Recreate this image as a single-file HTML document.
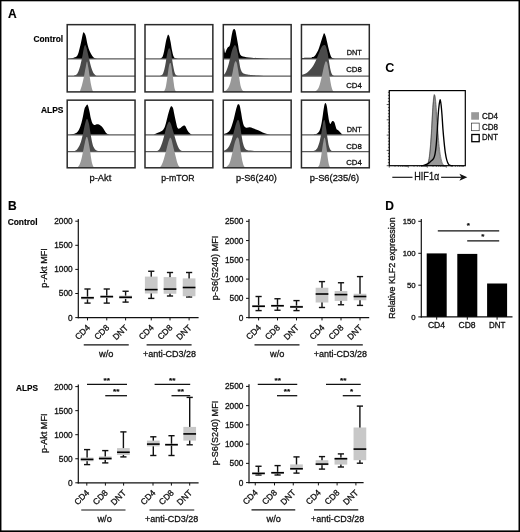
<!DOCTYPE html>
<html lang="en">
<head>
<meta charset="utf-8">
<title>Figure</title>
<style>
html,body{margin:0;padding:0;background:#fff;}
body{width:520px;height:532px;overflow:hidden;}
svg{display:block;}
text{font-kerning:normal;}
</style>
</head>
<body>
<svg width="520" height="532" viewBox="0 0 520 532" font-family='"Liberation Sans", sans-serif'>
<rect x="0" y="0" width="520" height="532" fill="#fff"/>
<path d="M68.6 58.95L68.6 58.85C69.37 58.69 71.88 58.28 73.2 57.9C74.52 57.52 75.62 57.43 76.5 56.55C77.38 55.68 77.85 54.52 78.5 52.65C79.15 50.78 79.85 47.65 80.4 45.35C80.95 43.05 81.32 40.98 81.8 38.85C82.28 36.72 82.76 33.32 83.3 32.55C83.84 31.78 84.58 33.42 85.05 34.25C85.52 35.08 85.66 35.7 86.1 37.55C86.54 39.4 87.1 43.05 87.7 45.35C88.3 47.65 88.93 49.58 89.7 51.35C90.47 53.12 91.43 54.8 92.3 55.95C93.17 57.1 94.13 57.75 94.9 58.25C95.67 58.75 96.57 58.83 96.9 58.95L96.9 58.95Z" fill="#000"/>
<line x1="67.2" y1="58.95" x2="135.05" y2="58.95" stroke="#5a5a5a" stroke-width="1.25"/>
<path d="M73.9 76.1L73.9 75.8C74.33 75.58 75.73 75.27 76.5 74.5C77.27 73.73 77.85 72.73 78.5 71.2C79.15 69.67 79.75 67.82 80.4 65.3C81.05 62.78 81.85 58.83 82.4 56.1C82.95 53.37 83.26 50.73 83.7 48.9C84.14 47.07 84.6 45.32 85.05 45.1C85.5 44.88 85.96 46.32 86.4 47.6C86.84 48.88 87.15 50.5 87.7 52.8C88.25 55.1 89.05 58.77 89.7 61.4C90.35 64.03 90.95 66.63 91.6 68.6C92.25 70.57 92.83 72 93.6 73.2C94.37 74.4 95.77 75.37 96.2 75.8L96.2 76.1Z" fill="#4a4a4a"/>
<line x1="67.2" y1="76.1" x2="135.05" y2="76.1" stroke="#5a5a5a" stroke-width="1.25"/>
<path d="M80.05 91.9L80.05 90.9C80.34 90.03 81.19 87.88 81.8 85.7C82.41 83.52 83.05 80.87 83.7 77.8C84.35 74.73 85.15 70.03 85.7 67.3C86.25 64.57 86.57 61.4 87 61.4C87.43 61.4 87.85 64.78 88.3 67.3C88.75 69.82 89.25 73.65 89.7 76.5C90.15 79.35 90.57 82.2 91 84.4C91.43 86.6 91.93 88.53 92.3 89.7C92.67 90.87 93.05 91.12 93.2 91.4L93.2 91.9Z" fill="#989898"/>
<rect x="67.2" y="24.65" width="67.85" height="67.25" fill="none" stroke="#2a2a2a" stroke-width="1.5"/>
<path d="M160.4 58.95L160.4 58.65C160.73 58.37 161.85 57.88 162.4 56.95C162.95 56.02 163.27 54.8 163.7 53.05C164.13 51.3 164.57 48.65 165 46.45C165.43 44.25 165.85 41.72 166.3 39.85C166.75 37.98 167.37 36.12 167.7 35.25C168.03 34.38 168.02 34.43 168.3 34.65C168.58 34.87 169 35.23 169.4 36.55C169.8 37.87 170.27 40.25 170.7 42.55C171.13 44.85 171.57 48.17 172 50.35C172.43 52.53 172.82 54.37 173.3 55.65C173.78 56.93 174.2 57.52 174.9 58.05C175.6 58.58 177.07 58.72 177.5 58.85L177.5 58.95Z" fill="#000"/>
<line x1="145" y1="58.95" x2="212.85" y2="58.95" stroke="#5a5a5a" stroke-width="1.25"/>
<path d="M160.4 76.1L160.4 75.8C160.8 75.48 162.13 74.98 162.8 73.9C163.47 72.82 163.92 71.17 164.4 69.3C164.88 67.43 165.27 65.12 165.7 62.7C166.13 60.28 166.57 57 167 54.8C167.43 52.6 167.9 50.6 168.3 49.5C168.7 48.4 169 47.98 169.4 48.2C169.8 48.42 170.27 49.05 170.7 50.8C171.13 52.55 171.57 56.07 172 58.7C172.43 61.33 172.87 64.3 173.3 66.6C173.73 68.9 174.12 71.07 174.6 72.5C175.08 73.93 175.6 74.6 176.2 75.2C176.8 75.8 177.87 75.95 178.2 76.1L178.2 76.1Z" fill="#4a4a4a"/>
<line x1="145" y1="76.1" x2="212.85" y2="76.1" stroke="#5a5a5a" stroke-width="1.25"/>
<path d="M164.1 91.9L164.1 91.5C164.37 90.8 165.22 89.32 165.7 87.3C166.18 85.28 166.57 82.25 167 79.4C167.43 76.55 167.9 72.72 168.3 70.2C168.7 67.68 169.07 65.5 169.4 64.3C169.73 63.1 170 62.9 170.3 63C170.6 63.1 170.83 63.05 171.2 64.9C171.57 66.75 172.1 71.25 172.5 74.1C172.9 76.95 173.25 79.58 173.6 82C173.95 84.42 174.25 87.07 174.6 88.6C174.95 90.13 175.38 90.65 175.7 91.2C176.02 91.75 176.37 91.78 176.5 91.9L176.5 91.9Z" fill="#989898"/>
<rect x="145" y="24.65" width="67.85" height="67.25" fill="none" stroke="#2a2a2a" stroke-width="1.5"/>
<path d="M223.3 58.95L223.3 46.45C223.45 46.78 223.92 47.37 224.2 48.45C224.48 49.53 224.68 52.58 225 52.95C225.32 53.32 225.62 51.58 226.1 50.65C226.58 49.72 227.33 48.12 227.9 47.35C228.47 46.58 229.03 47.03 229.5 46.05C229.97 45.07 230.32 43.32 230.7 41.45C231.08 39.58 231.43 36.72 231.8 34.85C232.17 32.98 232.52 31.23 232.9 30.25C233.28 29.27 233.68 28.92 234.1 28.95C234.52 28.98 234.97 29.12 235.4 30.45C235.83 31.78 236.27 34.62 236.7 36.95C237.13 39.28 237.58 42.03 238 44.45C238.42 46.87 238.73 49.63 239.2 51.45C239.67 53.27 240.17 54.5 240.8 55.35C241.43 56.2 242.08 56.25 243 56.55C243.92 56.85 244.87 56.97 246.3 57.15C247.73 57.33 249.4 57.47 251.6 57.65C253.8 57.83 257.1 58.08 259.5 58.25C261.9 58.42 264.08 58.58 266 58.7C267.92 58.82 270.17 58.91 271 58.95L271 58.95Z" fill="#000"/>
<line x1="223.3" y1="58.95" x2="291.15" y2="58.95" stroke="#5a5a5a" stroke-width="1.25"/>
<path d="M223.3 76.1L223.3 75.2C223.52 75.02 224.05 74.93 224.6 74.1C225.15 73.27 225.93 71.83 226.6 70.2C227.27 68.57 227.95 66.6 228.6 64.3C229.25 62 229.85 58.93 230.5 56.4C231.15 53.87 231.88 50.87 232.5 49.1C233.12 47.33 233.77 46.45 234.2 45.8C234.63 45.15 234.73 44.97 235.1 45.2C235.47 45.43 235.95 45.88 236.4 47.2C236.85 48.52 237.35 50.8 237.8 53.1C238.25 55.4 238.67 58.48 239.1 61C239.53 63.52 239.9 66.33 240.4 68.2C240.9 70.07 241.45 71.28 242.1 72.2C242.75 73.12 243.38 73.33 244.3 73.7C245.22 74.07 246.38 74.18 247.6 74.4C248.82 74.62 249.83 74.82 251.6 75C253.37 75.18 256.13 75.35 258.2 75.5C260.27 75.65 262.03 75.8 264 75.9C265.97 76 269 76.07 270 76.1L270 76.1Z" fill="#4a4a4a"/>
<line x1="223.3" y1="76.1" x2="291.15" y2="76.1" stroke="#5a5a5a" stroke-width="1.25"/>
<path d="M223.9 91.9L223.9 91.5C224.35 91.23 225.82 90.6 226.6 89.9C227.38 89.2 227.95 88.62 228.6 87.3C229.25 85.98 229.85 84.42 230.5 82C231.15 79.58 231.88 75.75 232.5 72.8C233.12 69.85 233.7 66.23 234.2 64.3C234.7 62.37 235.07 61.42 235.5 61.2C235.93 60.98 236.35 61.5 236.8 63C237.25 64.5 237.75 67.47 238.2 70.2C238.65 72.93 239.07 76.67 239.5 79.4C239.93 82.13 240.32 84.78 240.8 86.6C241.28 88.42 241.82 89.47 242.4 90.3C242.98 91.13 243.75 91.33 244.3 91.6C244.85 91.87 245.47 91.85 245.7 91.9L245.7 91.9Z" fill="#989898"/>
<rect x="223.3" y="24.65" width="67.85" height="67.25" fill="none" stroke="#2a2a2a" stroke-width="1.5"/>
<path d="M301.9 58.95L301.9 58.05C302.57 58 304.35 57.82 305.9 57.75C307.45 57.68 309.78 57.88 311.2 57.65C312.62 57.42 313.42 57.23 314.4 56.35C315.38 55.47 316.32 53.78 317.1 52.35C317.88 50.92 318.45 49.5 319.1 47.75C319.75 46 320.4 43.72 321 41.85C321.6 39.98 322.18 37.98 322.7 36.55C323.22 35.12 323.62 33.35 324.1 33.25C324.58 33.15 325.08 34.4 325.6 35.95C326.12 37.5 326.65 40.25 327.2 42.55C327.75 44.85 328.32 47.57 328.9 49.75C329.48 51.93 330.12 54.27 330.7 55.65C331.28 57.03 331.75 57.52 332.4 58.05C333.05 58.58 334.23 58.72 334.6 58.85L334.6 58.95Z" fill="#000"/>
<line x1="301.45" y1="58.95" x2="369.3" y2="58.95" stroke="#5a5a5a" stroke-width="1.25"/>
<path d="M301.9 76.1L301.9 74.8C302.35 74.65 303.6 74.38 304.6 73.9C305.6 73.42 306.8 72.78 307.9 71.9C309 71.02 310.22 69.8 311.2 68.6C312.18 67.4 312.93 66.23 313.8 64.7C314.67 63.17 315.52 61.38 316.4 59.4C317.28 57.42 318.27 54.78 319.1 52.8C319.93 50.82 320.75 48.7 321.4 47.5C322.05 46.3 322.52 46.03 323 45.6C323.48 45.17 323.83 44.8 324.3 44.9C324.77 45 325.27 44.98 325.8 46.2C326.33 47.42 326.98 49.78 327.5 52.2C328.02 54.62 328.47 58.08 328.9 60.7C329.33 63.32 329.67 65.82 330.1 67.9C330.53 69.98 331 71.95 331.5 73.2C332 74.45 332.48 74.92 333.1 75.4C333.72 75.88 334.85 75.98 335.2 76.1L335.2 76.1Z" fill="#4a4a4a"/>
<line x1="301.45" y1="76.1" x2="369.3" y2="76.1" stroke="#5a5a5a" stroke-width="1.25"/>
<path d="M315.1 91.9L315.1 91.6C315.53 91.22 316.93 90.45 317.7 89.3C318.47 88.15 319.03 86.78 319.7 84.7C320.37 82.62 321.03 79.65 321.7 76.8C322.37 73.95 323.12 70.02 323.7 67.6C324.28 65.18 324.78 63.33 325.2 62.3C325.62 61.27 325.85 61.28 326.2 61.4C326.55 61.52 326.88 61.53 327.3 63C327.72 64.47 328.23 67.47 328.7 70.2C329.17 72.93 329.62 76.55 330.1 79.4C330.58 82.25 331.12 85.37 331.6 87.3C332.08 89.23 332.53 90.23 333 91C333.47 91.77 334.17 91.75 334.4 91.9L334.4 91.9Z" fill="#989898"/>
<rect x="301.45" y="24.65" width="67.85" height="67.25" fill="none" stroke="#2a2a2a" stroke-width="1.5"/>
<path d="M69.9 134.85L69.9 134.55C70.67 134.42 73.18 134.3 74.5 133.8C75.82 133.3 76.82 132.81 77.8 131.55C78.78 130.29 79.63 128.33 80.4 126.25C81.17 124.17 81.73 121.9 82.4 119.05C83.07 116.2 83.85 111.23 84.4 109.15C84.95 107.07 85.22 107.32 85.7 106.55C86.18 105.78 86.87 104.55 87.3 104.55C87.73 104.55 87.9 105.23 88.3 106.55C88.7 107.87 89.25 110.37 89.7 112.45C90.15 114.53 90.5 117.18 91 119.05C91.5 120.92 92.05 122.67 92.7 123.65C93.35 124.63 94.2 124.83 94.9 124.95C95.6 125.07 96.23 124.42 96.9 124.35C97.57 124.28 98.25 124.33 98.9 124.55C99.55 124.77 100.15 125.13 100.8 125.65C101.45 126.17 102.13 126.77 102.8 127.65C103.47 128.53 104.13 129.97 104.8 130.95C105.47 131.93 106.03 132.9 106.8 133.55C107.57 134.2 108.97 134.63 109.4 134.85L109.4 134.85Z" fill="#000"/>
<line x1="67.2" y1="134.85" x2="135.05" y2="134.85" stroke="#5a5a5a" stroke-width="1.25"/>
<path d="M73.2 151.65L73.2 151.35C73.75 151.13 75.52 150.88 76.5 150.05C77.48 149.22 78.33 147.83 79.1 146.35C79.87 144.87 80.43 143.33 81.1 141.15C81.77 138.97 82.44 136.1 83.1 133.25C83.76 130.4 84.4 126.47 85.05 124.05C85.7 121.63 86.34 118.75 87 118.75C87.66 118.75 88.45 121.85 89 124.05C89.55 126.25 89.82 129.1 90.3 131.95C90.78 134.8 91.35 138.63 91.9 141.15C92.45 143.67 92.88 145.52 93.6 147.05C94.32 148.58 95.1 149.63 96.2 150.35C97.3 151.07 98.98 151.13 100.2 151.35C101.42 151.57 102.95 151.6 103.5 151.65L103.5 151.65Z" fill="#4a4a4a"/>
<line x1="67.2" y1="151.65" x2="135.05" y2="151.65" stroke="#5a5a5a" stroke-width="1.25"/>
<path d="M77.8 167.8L77.8 167.4C78.13 166.85 79.13 165.75 79.8 164.1C80.47 162.45 81.15 160.13 81.8 157.5C82.45 154.87 83.05 151.37 83.7 148.3C84.35 145.23 85.18 140.97 85.7 139.1C86.22 137.23 86.43 137.1 86.8 137.1C87.17 137.1 87.42 137.23 87.9 139.1C88.38 140.97 89.18 145.23 89.7 148.3C90.22 151.37 90.57 154.87 91 157.5C91.43 160.13 91.87 162.52 92.3 164.1C92.73 165.68 93.23 166.38 93.6 167C93.97 167.62 94.35 167.67 94.5 167.8L94.5 167.8Z" fill="#989898"/>
<rect x="67.2" y="100.15" width="67.85" height="67.65" fill="none" stroke="#2a2a2a" stroke-width="1.5"/>
<path d="M153.8 134.85L153.8 134.55C154.47 134.27 156.48 133.45 157.8 132.85C159.12 132.25 160.6 131.82 161.7 130.95C162.8 130.08 163.63 129.2 164.4 127.65C165.17 126.1 165.65 123.97 166.3 121.65C166.95 119.33 167.7 115.93 168.3 113.75C168.9 111.57 169.42 109.82 169.9 108.55C170.38 107.28 170.7 106.27 171.2 106.15C171.7 106.03 172.4 106.58 172.9 107.85C173.4 109.12 173.7 111.45 174.2 113.75C174.7 116.05 175.35 119.33 175.9 121.65C176.45 123.97 176.9 126.5 177.5 127.65C178.1 128.8 178.83 128.67 179.5 128.55C180.17 128.43 180.85 127.43 181.5 126.95C182.15 126.47 182.78 125.8 183.4 125.65C184.02 125.5 184.65 125.5 185.2 126.05C185.75 126.6 186.12 127.92 186.7 128.95C187.28 129.98 188 131.38 188.7 132.25C189.4 133.12 190.23 133.72 190.9 134.15C191.57 134.58 192.4 134.73 192.7 134.85L192.7 134.85Z" fill="#000"/>
<line x1="145" y1="134.85" x2="212.85" y2="134.85" stroke="#5a5a5a" stroke-width="1.25"/>
<path d="M156.5 151.65L156.5 151.35C156.93 151.07 158.33 150.58 159.1 149.65C159.87 148.72 160.43 147.38 161.1 145.75C161.77 144.12 162.45 142.05 163.1 139.85C163.75 137.65 164.35 134.97 165 132.55C165.65 130.13 166.33 127.17 167 125.35C167.67 123.53 168.35 121.87 169 121.65C169.65 121.43 170.25 122.57 170.9 124.05C171.55 125.53 172.23 128.37 172.9 130.55C173.57 132.73 174.23 134.95 174.9 137.15C175.57 139.35 176.25 141.88 176.9 143.75C177.55 145.62 178.15 147.21 178.8 148.35C179.45 149.49 180.03 150.05 180.8 150.6C181.57 151.15 182.97 151.47 183.4 151.65L183.4 151.65Z" fill="#4a4a4a"/>
<line x1="145" y1="151.65" x2="212.85" y2="151.65" stroke="#5a5a5a" stroke-width="1.25"/>
<path d="M159.8 167.8L159.8 167.4C160.12 166.97 161.05 166.12 161.7 164.8C162.35 163.48 163.03 161.58 163.7 159.5C164.37 157.42 165.03 154.82 165.7 152.3C166.37 149.78 167.08 146.6 167.7 144.4C168.32 142.2 168.97 140.2 169.4 139.1C169.83 138 169.93 137.68 170.3 137.8C170.67 137.92 171.05 138.05 171.6 139.8C172.15 141.55 172.93 145.57 173.6 148.3C174.27 151.03 174.98 153.78 175.6 156.2C176.22 158.62 176.77 161.15 177.3 162.8C177.83 164.45 178.28 165.27 178.8 166.1C179.32 166.93 180.13 167.52 180.4 167.8L180.4 167.8Z" fill="#989898"/>
<rect x="145" y="100.15" width="67.85" height="67.65" fill="none" stroke="#2a2a2a" stroke-width="1.5"/>
<path d="M223.9 134.85L223.9 134.15C224.45 133.93 226.2 133.5 227.2 132.85C228.2 132.2 229.13 131.45 229.9 130.25C230.67 129.05 231.15 127.52 231.8 125.65C232.45 123.78 233.18 121.35 233.8 119.05C234.42 116.75 234.95 114.03 235.5 111.85C236.05 109.67 236.62 107.2 237.1 105.95C237.58 104.7 237.97 104.4 238.4 104.35C238.83 104.3 239.25 104.3 239.7 105.65C240.15 107 240.65 110 241.1 112.45C241.55 114.9 241.93 118.15 242.4 120.35C242.87 122.55 243.25 124.43 243.9 125.65C244.55 126.87 245.35 127.38 246.3 127.65C247.25 127.92 248.5 127.15 249.6 127.25C250.7 127.35 251.7 127.82 252.9 128.25C254.1 128.68 255.48 129.3 256.8 129.85C258.12 130.4 259.48 130.98 260.8 131.55C262.12 132.12 263.28 132.75 264.7 133.25C266.12 133.75 267.98 134.28 269.3 134.55C270.62 134.82 272.05 134.8 272.6 134.85L272.6 134.85Z" fill="#000"/>
<line x1="223.3" y1="134.85" x2="291.15" y2="134.85" stroke="#5a5a5a" stroke-width="1.25"/>
<path d="M223.9 151.65L223.9 150.85C224.35 150.58 225.72 150.07 226.6 149.25C227.48 148.43 228.37 147.48 229.2 145.95C230.03 144.42 230.87 142.23 231.6 140.05C232.33 137.87 232.95 135.27 233.6 132.85C234.25 130.43 234.92 127.53 235.5 125.55C236.08 123.57 236.68 121.87 237.1 120.95C237.52 120.03 237.67 119.98 238 120.05C238.33 120.12 238.7 120.1 239.1 121.35C239.5 122.6 239.97 125.08 240.4 127.55C240.83 130.02 241.27 133.52 241.7 136.15C242.13 138.78 242.5 141.38 243 143.35C243.5 145.32 244.03 146.85 244.7 147.95C245.37 149.05 246.07 149.51 247 149.95C247.93 150.39 248.88 150.4 250.3 150.6C251.72 150.8 253.53 151 255.5 151.15C257.47 151.3 260.33 151.44 262.1 151.52C263.87 151.6 265.43 151.63 266.1 151.65L266.1 151.65Z" fill="#4a4a4a"/>
<line x1="223.3" y1="151.65" x2="291.15" y2="151.65" stroke="#5a5a5a" stroke-width="1.25"/>
<path d="M225.9 167.8L225.9 167.4C226.35 166.97 227.83 166 228.6 164.8C229.37 163.6 229.85 162.28 230.5 160.2C231.15 158.12 231.83 155.05 232.5 152.3C233.17 149.55 233.85 146 234.5 143.7C235.15 141.4 235.9 139.53 236.4 138.5C236.9 137.47 237.12 137.4 237.5 137.5C237.88 137.6 238.28 137.73 238.7 139.1C239.12 140.47 239.57 143.07 240 145.7C240.43 148.33 240.87 152.17 241.3 154.9C241.73 157.63 242.17 160.23 242.6 162.1C243.03 163.97 243.38 165.15 243.9 166.1C244.42 167.05 245.4 167.52 245.7 167.8L245.7 167.8Z" fill="#989898"/>
<rect x="223.3" y="100.15" width="67.85" height="67.65" fill="none" stroke="#2a2a2a" stroke-width="1.5"/>
<path d="M313.8 134.85L313.8 134.55C314.35 134.38 316.12 134.27 317.1 133.55C318.08 132.83 318.95 132 319.7 130.25C320.45 128.5 321.05 125.8 321.6 123.05C322.15 120.3 322.6 116.38 323 113.75C323.4 111.12 323.72 108.87 324 107.25C324.28 105.63 324.47 104.75 324.7 104.05C324.93 103.35 325.15 103.05 325.4 103.05C325.65 103.05 325.93 103.35 326.2 104.05C326.47 104.75 326.72 105.63 327 107.25C327.28 108.87 327.55 111.45 327.9 113.75C328.25 116.05 328.7 119.33 329.1 121.05C329.5 122.77 329.92 123.85 330.3 124.05C330.68 124.25 331.05 122.75 331.4 122.25C331.75 121.75 332.05 121.23 332.4 121.05C332.75 120.87 333.15 120.9 333.5 121.15C333.85 121.4 334.15 121.68 334.5 122.55C334.85 123.42 335.25 125.23 335.6 126.35C335.95 127.47 336.23 128.63 336.6 129.25C336.97 129.87 337.37 129.72 337.8 130.05C338.23 130.38 338.73 130.78 339.2 131.25C339.67 131.72 340.13 132.35 340.6 132.85C341.07 133.35 341.57 133.92 342 134.25C342.43 134.58 343 134.75 343.2 134.85L343.2 134.85Z" fill="#000"/>
<line x1="301.45" y1="134.85" x2="369.3" y2="134.85" stroke="#5a5a5a" stroke-width="1.25"/>
<path d="M312.5 151.65L312.5 151.35C313.05 151.12 314.93 150.62 315.8 149.95C316.67 149.28 317.05 148.78 317.7 147.35C318.35 145.92 319.08 143.77 319.7 141.35C320.32 138.93 320.9 135.58 321.4 132.85C321.9 130.12 322.3 127.03 322.7 124.95C323.1 122.87 323.42 120.9 323.8 120.35C324.18 119.8 324.58 120.12 325 121.65C325.42 123.18 325.87 126.7 326.3 129.55C326.73 132.4 327.17 136.02 327.6 138.75C328.03 141.48 328.4 144.08 328.9 145.95C329.4 147.82 329.93 149.05 330.6 149.95C331.27 150.85 332.2 151.07 332.9 151.35C333.6 151.63 334.48 151.6 334.8 151.65L334.8 151.65Z" fill="#4a4a4a"/>
<line x1="301.45" y1="151.65" x2="369.3" y2="151.65" stroke="#5a5a5a" stroke-width="1.25"/>
<path d="M317.7 167.8L317.7 167.5C317.98 167.05 318.85 166.47 319.4 164.8C319.95 163.13 320.52 160.25 321 157.5C321.48 154.75 321.85 151.25 322.3 148.3C322.75 145.35 323.37 141.55 323.7 139.8C324.03 138.05 324.05 137.92 324.3 137.8C324.55 137.68 324.82 137.35 325.2 139.1C325.58 140.85 326.15 145 326.6 148.3C327.05 151.6 327.47 156.05 327.9 158.9C328.33 161.75 328.77 163.97 329.2 165.4C329.63 166.83 330.17 167.1 330.5 167.5C330.83 167.8 331.08 167.75 331.2 167.8L331.2 167.8Z" fill="#989898"/>
<rect x="301.45" y="100.15" width="67.85" height="67.65" fill="none" stroke="#2a2a2a" stroke-width="1.5"/>
<text x="7.9" y="17.8" font-size="12" font-weight="bold" fill="#000" stroke="#000" stroke-width="0.15">A</text>
<text x="33.5" y="41.8" font-size="8.3" font-weight="bold" textLength="29.6" lengthAdjust="spacingAndGlyphs" fill="#000" stroke="#000" stroke-width="0.15">Control</text>
<text x="41" y="113.4" font-size="8.3" font-weight="bold" textLength="22.5" lengthAdjust="spacingAndGlyphs" fill="#000" stroke="#000" stroke-width="0.15">ALPS</text>
<text x="89.53" y="180.6" font-size="9.7" textLength="21.75" lengthAdjust="spacingAndGlyphs" fill="#111" stroke="#111" stroke-width="0.3">p-Akt</text>
<text x="161.28" y="180.6" font-size="9.7" textLength="33.25" lengthAdjust="spacingAndGlyphs" fill="#111" stroke="#111" stroke-width="0.3">p-mTOR</text>
<text x="236.05" y="180.6" font-size="9.7" textLength="40.9" lengthAdjust="spacingAndGlyphs" fill="#111" stroke="#111" stroke-width="0.3">p-S6(240)</text>
<text x="309.85" y="180.6" font-size="9.7" textLength="49.3" lengthAdjust="spacingAndGlyphs" fill="#111" stroke="#111" stroke-width="0.3">p-S6(235/6)</text>
<text x="346.8" y="55.4" font-size="7.8" textLength="15" lengthAdjust="spacingAndGlyphs" fill="#111" stroke="#111" stroke-width="0.3">DNT</text>
<text x="346.2" y="72" font-size="7.8" textLength="15.6" lengthAdjust="spacingAndGlyphs" fill="#111" stroke="#111" stroke-width="0.3">CD8</text>
<text x="346.2" y="88.2" font-size="7.8" textLength="15.6" lengthAdjust="spacingAndGlyphs" fill="#111" stroke="#111" stroke-width="0.3">CD4</text>
<text x="346.8" y="131.9" font-size="7.8" textLength="15" lengthAdjust="spacingAndGlyphs" fill="#111" stroke="#111" stroke-width="0.3">DNT</text>
<text x="346.2" y="148.5" font-size="7.8" textLength="15.6" lengthAdjust="spacingAndGlyphs" fill="#111" stroke="#111" stroke-width="0.3">CD8</text>
<text x="346.2" y="165" font-size="7.8" textLength="15.6" lengthAdjust="spacingAndGlyphs" fill="#111" stroke="#111" stroke-width="0.3">CD4</text>
<text x="385.2" y="72.2" font-size="12.6" font-weight="bold" fill="#000">C</text>
<path d="M426.3 165.7L426.3 165.7C426.5 165.52 427.05 165.7 427.5 164.65C427.95 163.47 428.55 161.36 429 158.6C429.45 155.84 429.82 152.35 430.2 148.1C430.58 143.85 430.95 138.62 431.3 133.1C431.65 127.58 431.98 120.27 432.3 115C432.62 109.73 432.87 104.95 433.2 101.5C433.53 98.05 433.95 94.3 434.3 94.3C434.65 94.3 434.98 98.05 435.3 101.5C435.62 104.95 435.87 110.23 436.2 115C436.53 119.77 436.95 125.33 437.3 130.1C437.65 134.87 437.93 139.6 438.3 143.6C438.67 147.6 439.03 151.1 439.5 154.1C439.97 157.1 440.58 159.79 441.1 161.6C441.62 163.41 442.12 164.27 442.6 164.95C443.08 165.63 443.77 165.57 444 165.7L444 165.7Z" fill="#999" stroke="#6a6a6a" stroke-width="0.6" stroke-linejoin="round"/>
<path d="M426 165.7C426.27 165.52 427.07 165.7 427.6 164.65C428.13 163.47 428.73 161.36 429.2 158.6C429.67 155.84 430.02 152.35 430.4 148.1C430.78 143.85 431.15 138.62 431.5 133.1C431.85 127.58 432.17 120.27 432.5 115C432.83 109.73 433.15 104.8 433.5 101.5C433.85 98.2 434.23 95.2 434.6 95.2C434.97 95.2 435.35 98.2 435.7 101.5C436.05 104.8 436.35 110.23 436.7 115C437.05 119.77 437.43 125.33 437.8 130.1C438.17 134.87 438.5 139.6 438.9 143.6C439.3 147.6 439.72 151.1 440.2 154.1C440.68 157.1 441.27 159.79 441.8 161.6C442.33 163.41 442.87 164.27 443.4 164.95C443.93 165.63 444.73 165.57 445 165.7" fill="none" stroke="#333" stroke-width="0.55" stroke-linejoin="round"/>
<path d="M421 165.7C421.47 165.65 422.72 165.7 423.8 165.4C424.88 165.1 426.38 164.53 427.5 163.9C428.62 163.27 429.5 162.48 430.5 161.6C431.5 160.72 432.75 159.85 433.5 158.6C434.25 157.35 434.55 156.35 435 154.1C435.45 151.85 435.82 149.1 436.2 145.1C436.58 141.1 436.95 135.37 437.3 130.1C437.65 124.83 437.98 117.77 438.3 113.5C438.62 109.23 438.89 106.8 439.2 104.5C439.51 102.2 439.84 99.7 440.15 99.7C440.46 99.7 440.74 101.95 441.05 104.5C441.36 107.05 441.69 110.98 442 115C442.31 119.02 442.55 124.08 442.9 128.6C443.25 133.12 443.7 138.1 444.1 142.1C444.5 146.1 444.85 149.6 445.3 152.6C445.75 155.6 446.25 158.14 446.8 160.1C447.35 162.06 447.93 163.44 448.6 164.35C449.27 165.26 450.07 165.32 450.8 165.55C451.53 165.7 452.63 165.67 453 165.7" fill="none" stroke="#000" stroke-width="1.35" stroke-linejoin="round"/>
<rect x="389.3" y="90.6" width="76" height="75.1" fill="none" stroke="#000" stroke-width="1.2"/>
<line x1="386.7" y1="165.7" x2="389.3" y2="165.7" stroke="#111" stroke-width="0.7"/>
<line x1="387.9" y1="162.64" x2="389.3" y2="162.64" stroke="#111" stroke-width="0.7"/>
<line x1="387.9" y1="159.58" x2="389.3" y2="159.58" stroke="#111" stroke-width="0.7"/>
<line x1="387.9" y1="156.52" x2="389.3" y2="156.52" stroke="#111" stroke-width="0.7"/>
<line x1="387.9" y1="153.46" x2="389.3" y2="153.46" stroke="#111" stroke-width="0.7"/>
<line x1="386.7" y1="150.4" x2="389.3" y2="150.4" stroke="#111" stroke-width="0.7"/>
<line x1="387.9" y1="147.34" x2="389.3" y2="147.34" stroke="#111" stroke-width="0.7"/>
<line x1="387.9" y1="144.28" x2="389.3" y2="144.28" stroke="#111" stroke-width="0.7"/>
<line x1="387.9" y1="141.22" x2="389.3" y2="141.22" stroke="#111" stroke-width="0.7"/>
<line x1="387.9" y1="138.16" x2="389.3" y2="138.16" stroke="#111" stroke-width="0.7"/>
<line x1="386.7" y1="135.1" x2="389.3" y2="135.1" stroke="#111" stroke-width="0.7"/>
<line x1="387.9" y1="132.04" x2="389.3" y2="132.04" stroke="#111" stroke-width="0.7"/>
<line x1="387.9" y1="128.98" x2="389.3" y2="128.98" stroke="#111" stroke-width="0.7"/>
<line x1="387.9" y1="125.92" x2="389.3" y2="125.92" stroke="#111" stroke-width="0.7"/>
<line x1="387.9" y1="122.86" x2="389.3" y2="122.86" stroke="#111" stroke-width="0.7"/>
<line x1="386.7" y1="119.8" x2="389.3" y2="119.8" stroke="#111" stroke-width="0.7"/>
<line x1="387.9" y1="116.74" x2="389.3" y2="116.74" stroke="#111" stroke-width="0.7"/>
<line x1="387.9" y1="113.68" x2="389.3" y2="113.68" stroke="#111" stroke-width="0.7"/>
<line x1="387.9" y1="110.62" x2="389.3" y2="110.62" stroke="#111" stroke-width="0.7"/>
<line x1="387.9" y1="107.56" x2="389.3" y2="107.56" stroke="#111" stroke-width="0.7"/>
<line x1="386.7" y1="104.5" x2="389.3" y2="104.5" stroke="#111" stroke-width="0.7"/>
<line x1="387.9" y1="101.44" x2="389.3" y2="101.44" stroke="#111" stroke-width="0.7"/>
<line x1="387.9" y1="98.38" x2="389.3" y2="98.38" stroke="#111" stroke-width="0.7"/>
<line x1="387.9" y1="95.32" x2="389.3" y2="95.32" stroke="#111" stroke-width="0.7"/>
<line x1="387.9" y1="92.26" x2="389.3" y2="92.26" stroke="#111" stroke-width="0.7"/>
<line x1="389.3" y1="165.7" x2="389.3" y2="167.7" stroke="#111" stroke-width="0.6"/>
<line x1="395.02" y1="165.7" x2="395.02" y2="166.8" stroke="#111" stroke-width="0.6"/>
<line x1="398.37" y1="165.7" x2="398.37" y2="166.8" stroke="#111" stroke-width="0.6"/>
<line x1="400.74" y1="165.7" x2="400.74" y2="166.8" stroke="#111" stroke-width="0.6"/>
<line x1="402.58" y1="165.7" x2="402.58" y2="166.8" stroke="#111" stroke-width="0.6"/>
<line x1="404.08" y1="165.7" x2="404.08" y2="166.8" stroke="#111" stroke-width="0.6"/>
<line x1="405.36" y1="165.7" x2="405.36" y2="166.8" stroke="#111" stroke-width="0.6"/>
<line x1="406.46" y1="165.7" x2="406.46" y2="166.8" stroke="#111" stroke-width="0.6"/>
<line x1="407.43" y1="165.7" x2="407.43" y2="166.8" stroke="#111" stroke-width="0.6"/>
<line x1="408.3" y1="165.7" x2="408.3" y2="167.7" stroke="#111" stroke-width="0.6"/>
<line x1="414.02" y1="165.7" x2="414.02" y2="166.8" stroke="#111" stroke-width="0.6"/>
<line x1="417.37" y1="165.7" x2="417.37" y2="166.8" stroke="#111" stroke-width="0.6"/>
<line x1="419.74" y1="165.7" x2="419.74" y2="166.8" stroke="#111" stroke-width="0.6"/>
<line x1="421.58" y1="165.7" x2="421.58" y2="166.8" stroke="#111" stroke-width="0.6"/>
<line x1="423.08" y1="165.7" x2="423.08" y2="166.8" stroke="#111" stroke-width="0.6"/>
<line x1="424.36" y1="165.7" x2="424.36" y2="166.8" stroke="#111" stroke-width="0.6"/>
<line x1="425.46" y1="165.7" x2="425.46" y2="166.8" stroke="#111" stroke-width="0.6"/>
<line x1="426.43" y1="165.7" x2="426.43" y2="166.8" stroke="#111" stroke-width="0.6"/>
<line x1="427.3" y1="165.7" x2="427.3" y2="167.7" stroke="#111" stroke-width="0.6"/>
<line x1="433.02" y1="165.7" x2="433.02" y2="166.8" stroke="#111" stroke-width="0.6"/>
<line x1="436.37" y1="165.7" x2="436.37" y2="166.8" stroke="#111" stroke-width="0.6"/>
<line x1="438.74" y1="165.7" x2="438.74" y2="166.8" stroke="#111" stroke-width="0.6"/>
<line x1="440.58" y1="165.7" x2="440.58" y2="166.8" stroke="#111" stroke-width="0.6"/>
<line x1="442.08" y1="165.7" x2="442.08" y2="166.8" stroke="#111" stroke-width="0.6"/>
<line x1="443.36" y1="165.7" x2="443.36" y2="166.8" stroke="#111" stroke-width="0.6"/>
<line x1="444.46" y1="165.7" x2="444.46" y2="166.8" stroke="#111" stroke-width="0.6"/>
<line x1="445.43" y1="165.7" x2="445.43" y2="166.8" stroke="#111" stroke-width="0.6"/>
<line x1="446.3" y1="165.7" x2="446.3" y2="167.7" stroke="#111" stroke-width="0.6"/>
<line x1="452.02" y1="165.7" x2="452.02" y2="166.8" stroke="#111" stroke-width="0.6"/>
<line x1="455.37" y1="165.7" x2="455.37" y2="166.8" stroke="#111" stroke-width="0.6"/>
<line x1="457.74" y1="165.7" x2="457.74" y2="166.8" stroke="#111" stroke-width="0.6"/>
<line x1="459.58" y1="165.7" x2="459.58" y2="166.8" stroke="#111" stroke-width="0.6"/>
<line x1="461.08" y1="165.7" x2="461.08" y2="166.8" stroke="#111" stroke-width="0.6"/>
<line x1="462.36" y1="165.7" x2="462.36" y2="166.8" stroke="#111" stroke-width="0.6"/>
<line x1="463.46" y1="165.7" x2="463.46" y2="166.8" stroke="#111" stroke-width="0.6"/>
<line x1="392.3" y1="177.3" x2="412.5" y2="177.3" stroke="#111" stroke-width="1.15"/>
<text x="414.3" y="179.6" font-size="10.1" textLength="24.9" lengthAdjust="spacingAndGlyphs" fill="#111" stroke="#111" stroke-width="0.3">HIF1α</text>
<line x1="441.1" y1="177.3" x2="461.5" y2="177.3" stroke="#111" stroke-width="1.15"/>
<path d="M467.3 177.3L459.4 173.8L461.4 177.3L459.4 180.8Z" fill="#111"/>
<rect x="471.2" y="112.2" width="7.8" height="7.5" fill="#999"/>
<rect x="471.6" y="123.1" width="7.6" height="7.6" fill="#fff" stroke="#333" stroke-width="0.7"/>
<rect x="471.8" y="134.5" width="7.4" height="7.2" fill="#fff" stroke="#000" stroke-width="1.3"/>
<text x="482" y="118.8" font-size="8.2" textLength="16.1" lengthAdjust="spacingAndGlyphs" fill="#111" stroke="#111" stroke-width="0.3">CD4</text>
<text x="482" y="129.6" font-size="8.2" textLength="16.1" lengthAdjust="spacingAndGlyphs" fill="#111" stroke="#111" stroke-width="0.3">CD8</text>
<text x="482" y="140.2" font-size="8.2" textLength="16" lengthAdjust="spacingAndGlyphs" fill="#111" stroke="#111" stroke-width="0.3">DNT</text>
<text x="385.2" y="210.3" font-size="12" font-weight="bold" fill="#000" stroke="#000" stroke-width="0.15">D</text>
<line x1="421.3" y1="218.9" x2="421.3" y2="317.5" stroke="#111" stroke-width="1.2"/>
<line x1="420.7" y1="316.9" x2="512.5" y2="316.9" stroke="#111" stroke-width="1.2"/>
<line x1="418.3" y1="221.3" x2="421.3" y2="221.3" stroke="#111" stroke-width="1"/>
<text x="415.7" y="224.1" font-size="7.8" text-anchor="end" fill="#111" stroke="#111" stroke-width="0.3">150</text>
<line x1="418.3" y1="253.3" x2="421.3" y2="253.3" stroke="#111" stroke-width="1"/>
<text x="415.7" y="256.1" font-size="7.8" text-anchor="end" fill="#111" stroke="#111" stroke-width="0.3">100</text>
<line x1="418.3" y1="285.2" x2="421.3" y2="285.2" stroke="#111" stroke-width="1"/>
<text x="415.7" y="288" font-size="7.8" text-anchor="end" fill="#111" stroke="#111" stroke-width="0.3">50</text>
<line x1="418.3" y1="316.9" x2="421.3" y2="316.9" stroke="#111" stroke-width="1"/>
<text x="415.7" y="319.7" font-size="7.8" text-anchor="end" fill="#111" stroke="#111" stroke-width="0.3">0</text>
<rect x="426.7" y="253.4" width="20" height="63.5" fill="#000"/>
<line x1="436.7" y1="316.9" x2="436.7" y2="319.7" stroke="#111" stroke-width="1"/>
<rect x="457.3" y="253.9" width="20" height="63" fill="#000"/>
<line x1="467.3" y1="316.9" x2="467.3" y2="319.7" stroke="#111" stroke-width="1"/>
<rect x="487.1" y="283.5" width="20" height="33.4" fill="#000"/>
<line x1="497.1" y1="316.9" x2="497.1" y2="319.7" stroke="#111" stroke-width="1"/>
<text x="427.9" y="328.2" font-size="8.4" textLength="17.2" lengthAdjust="spacingAndGlyphs" fill="#111" stroke="#111" stroke-width="0.3">CD4</text>
<text x="458.5" y="328.2" font-size="8.4" textLength="17.1" lengthAdjust="spacingAndGlyphs" fill="#111" stroke="#111" stroke-width="0.3">CD8</text>
<text x="489" y="328.2" font-size="8.4" textLength="16.4" lengthAdjust="spacingAndGlyphs" fill="#111" stroke="#111" stroke-width="0.3">DNT</text>
<line x1="437.8" y1="230.9" x2="499.2" y2="230.9" stroke="#111" stroke-width="1.3"/>
<line x1="467.2" y1="240.9" x2="499.2" y2="240.9" stroke="#111" stroke-width="1.3"/>
<text x="468.3" y="228.3" font-size="8" text-anchor="middle" font-weight="bold" fill="#000" stroke="#000" stroke-width="0.15">*</text>
<text x="482.9" y="238.9" font-size="8" text-anchor="middle" font-weight="bold" fill="#000" stroke="#000" stroke-width="0.15">*</text>
<text x="395.5" y="318.7" font-size="9.7" textLength="101.3" lengthAdjust="spacingAndGlyphs" transform="rotate(-90 395.5 318.7)" fill="#111" stroke="#111" stroke-width="0.3">Relative KLF2 expression</text>
<text x="8" y="210.1" font-size="12" font-weight="bold" fill="#000" stroke="#000" stroke-width="0.15">B</text>
<text x="7.7" y="225" font-size="8.3" font-weight="bold" textLength="29.8" lengthAdjust="spacingAndGlyphs" fill="#000" stroke="#000" stroke-width="0.15">Control</text>
<text x="16" y="390.7" font-size="8.3" font-weight="bold" textLength="22" lengthAdjust="spacingAndGlyphs" fill="#000" stroke="#000" stroke-width="0.15">ALPS</text>
<line x1="78.3" y1="219" x2="78.3" y2="318.2" stroke="#111" stroke-width="1.2"/>
<line x1="77.7" y1="317.6" x2="198.6" y2="317.6" stroke="#111" stroke-width="1.2"/>
<line x1="75.3" y1="317.6" x2="78.3" y2="317.6" stroke="#111" stroke-width="1"/>
<text x="72.7" y="320.55" font-size="8.3" text-anchor="end" fill="#111" stroke="#111" stroke-width="0.3">0</text>
<line x1="75.3" y1="293.5" x2="78.3" y2="293.5" stroke="#111" stroke-width="1"/>
<text x="72.7" y="296.45" font-size="8.3" text-anchor="end" fill="#111" stroke="#111" stroke-width="0.3">500</text>
<line x1="75.3" y1="269.4" x2="78.3" y2="269.4" stroke="#111" stroke-width="1"/>
<text x="72.7" y="272.35" font-size="8.3" text-anchor="end" fill="#111" stroke="#111" stroke-width="0.3">1000</text>
<line x1="75.3" y1="245.3" x2="78.3" y2="245.3" stroke="#111" stroke-width="1"/>
<text x="72.7" y="248.25" font-size="8.3" text-anchor="end" fill="#111" stroke="#111" stroke-width="0.3">1500</text>
<line x1="75.3" y1="221.2" x2="78.3" y2="221.2" stroke="#111" stroke-width="1"/>
<text x="72.7" y="224.15" font-size="8.3" text-anchor="end" fill="#111" stroke="#111" stroke-width="0.3">2000</text>
<line x1="87.5" y1="317.6" x2="87.5" y2="320.4" stroke="#111" stroke-width="1"/>
<line x1="106.75" y1="317.6" x2="106.75" y2="320.4" stroke="#111" stroke-width="1"/>
<line x1="125.6" y1="317.6" x2="125.6" y2="320.4" stroke="#111" stroke-width="1"/>
<line x1="151.25" y1="317.6" x2="151.25" y2="320.4" stroke="#111" stroke-width="1"/>
<line x1="170" y1="317.6" x2="170" y2="320.4" stroke="#111" stroke-width="1"/>
<line x1="189.1" y1="317.6" x2="189.1" y2="320.4" stroke="#111" stroke-width="1"/>
<text x="90.5" y="328.2" font-size="8.5" text-anchor="end" transform="rotate(-45 90.5 328.2)" fill="#111" stroke="#111" stroke-width="0.3">CD4</text>
<text x="109.75" y="328.2" font-size="8.5" text-anchor="end" transform="rotate(-45 109.75 328.2)" fill="#111" stroke="#111" stroke-width="0.3">CD8</text>
<text x="128.6" y="328.2" font-size="8.5" text-anchor="end" transform="rotate(-45 128.6 328.2)" fill="#111" stroke="#111" stroke-width="0.3">DNT</text>
<text x="154.25" y="328.2" font-size="8.5" text-anchor="end" transform="rotate(-45 154.25 328.2)" fill="#111" stroke="#111" stroke-width="0.3">CD4</text>
<text x="173" y="328.2" font-size="8.5" text-anchor="end" transform="rotate(-45 173 328.2)" fill="#111" stroke="#111" stroke-width="0.3">CD8</text>
<text x="192.1" y="328.2" font-size="8.5" text-anchor="end" transform="rotate(-45 192.1 328.2)" fill="#111" stroke="#111" stroke-width="0.3">DNT</text>
<line x1="87.5" y1="289" x2="87.5" y2="303.1" stroke="#111" stroke-width="1.4"/>
<line x1="84.4" y1="289" x2="90.6" y2="289" stroke="#111" stroke-width="1.4"/>
<line x1="84.4" y1="303.1" x2="90.6" y2="303.1" stroke="#111" stroke-width="1.4"/>
<rect x="81.15" y="296.6" width="12.7" height="2.8" fill="#c8c8c8"/>
<line x1="81.15" y1="297.75" x2="93.85" y2="297.75" stroke="#000" stroke-width="1.6"/>
<line x1="106.75" y1="289" x2="106.75" y2="303.1" stroke="#111" stroke-width="1.4"/>
<line x1="103.65" y1="289" x2="109.85" y2="289" stroke="#111" stroke-width="1.4"/>
<line x1="103.65" y1="303.1" x2="109.85" y2="303.1" stroke="#111" stroke-width="1.4"/>
<rect x="100.4" y="295.6" width="12.7" height="2.3" fill="#c8c8c8"/>
<line x1="100.4" y1="296.6" x2="113.1" y2="296.6" stroke="#000" stroke-width="1.6"/>
<line x1="125.6" y1="291.25" x2="125.6" y2="302.1" stroke="#111" stroke-width="1.4"/>
<line x1="122.5" y1="291.25" x2="128.7" y2="291.25" stroke="#111" stroke-width="1.4"/>
<line x1="122.5" y1="302.1" x2="128.7" y2="302.1" stroke="#111" stroke-width="1.4"/>
<rect x="119.25" y="295.6" width="12.7" height="3.3" fill="#c8c8c8"/>
<line x1="119.25" y1="297.25" x2="131.95" y2="297.25" stroke="#000" stroke-width="1.6"/>
<line x1="151.25" y1="271.25" x2="151.25" y2="298.4" stroke="#111" stroke-width="1.4"/>
<line x1="148.15" y1="271.25" x2="154.35" y2="271.25" stroke="#111" stroke-width="1.4"/>
<line x1="148.15" y1="298.4" x2="154.35" y2="298.4" stroke="#111" stroke-width="1.4"/>
<rect x="144.9" y="276.6" width="12.7" height="16.9" fill="#c8c8c8"/>
<line x1="144.9" y1="289.6" x2="157.6" y2="289.6" stroke="#000" stroke-width="1.6"/>
<line x1="170" y1="272.5" x2="170" y2="296" stroke="#111" stroke-width="1.4"/>
<line x1="166.9" y1="272.5" x2="173.1" y2="272.5" stroke="#111" stroke-width="1.4"/>
<line x1="166.9" y1="296" x2="173.1" y2="296" stroke="#111" stroke-width="1.4"/>
<rect x="163.65" y="277.1" width="12.7" height="16.65" fill="#c8c8c8"/>
<line x1="163.65" y1="289.1" x2="176.35" y2="289.1" stroke="#000" stroke-width="1.6"/>
<line x1="189.1" y1="272.5" x2="189.1" y2="297" stroke="#111" stroke-width="1.4"/>
<line x1="186" y1="272.5" x2="192.2" y2="272.5" stroke="#111" stroke-width="1.4"/>
<line x1="186" y1="297" x2="192.2" y2="297" stroke="#111" stroke-width="1.4"/>
<rect x="182.75" y="278.4" width="12.7" height="17.85" fill="#c8c8c8"/>
<line x1="182.75" y1="287.5" x2="195.45" y2="287.5" stroke="#000" stroke-width="1.6"/>
<line x1="83.75" y1="344.8" x2="128.75" y2="344.8" stroke="#111" stroke-width="1.2"/>
<line x1="146.6" y1="344.8" x2="191.6" y2="344.8" stroke="#111" stroke-width="1.2"/>
<text x="99" y="356.5" font-size="9.7" textLength="14.4" lengthAdjust="spacingAndGlyphs" fill="#111" stroke="#111" stroke-width="0.3">w/o</text>
<text x="142.9" y="356.5" font-size="9.7" textLength="53.2" lengthAdjust="spacingAndGlyphs" fill="#111" stroke="#111" stroke-width="0.3">+anti-CD3/28</text>
<text x="47" y="287.65" font-size="9.7" textLength="39.5" lengthAdjust="spacingAndGlyphs" transform="rotate(-90 47 287.65)" fill="#111" stroke="#111" stroke-width="0.3">p-Akt MFI</text>
<line x1="249" y1="219.1" x2="249" y2="318.2" stroke="#111" stroke-width="1.2"/>
<line x1="248.4" y1="317.6" x2="369.2" y2="317.6" stroke="#111" stroke-width="1.2"/>
<line x1="246" y1="317.6" x2="249" y2="317.6" stroke="#111" stroke-width="1"/>
<text x="243.4" y="320.55" font-size="8.3" text-anchor="end" fill="#111" stroke="#111" stroke-width="0.3">0</text>
<line x1="246" y1="298.34" x2="249" y2="298.34" stroke="#111" stroke-width="1"/>
<text x="243.4" y="301.29" font-size="8.3" text-anchor="end" fill="#111" stroke="#111" stroke-width="0.3">500</text>
<line x1="246" y1="279.08" x2="249" y2="279.08" stroke="#111" stroke-width="1"/>
<text x="243.4" y="282.03" font-size="8.3" text-anchor="end" fill="#111" stroke="#111" stroke-width="0.3">1000</text>
<line x1="246" y1="259.82" x2="249" y2="259.82" stroke="#111" stroke-width="1"/>
<text x="243.4" y="262.77" font-size="8.3" text-anchor="end" fill="#111" stroke="#111" stroke-width="0.3">1500</text>
<line x1="246" y1="240.56" x2="249" y2="240.56" stroke="#111" stroke-width="1"/>
<text x="243.4" y="243.51" font-size="8.3" text-anchor="end" fill="#111" stroke="#111" stroke-width="0.3">2000</text>
<line x1="246" y1="221.3" x2="249" y2="221.3" stroke="#111" stroke-width="1"/>
<text x="243.4" y="224.25" font-size="8.3" text-anchor="end" fill="#111" stroke="#111" stroke-width="0.3">2500</text>
<line x1="258.6" y1="317.6" x2="258.6" y2="320.4" stroke="#111" stroke-width="1"/>
<line x1="277.5" y1="317.6" x2="277.5" y2="320.4" stroke="#111" stroke-width="1"/>
<line x1="296.5" y1="317.6" x2="296.5" y2="320.4" stroke="#111" stroke-width="1"/>
<line x1="322" y1="317.6" x2="322" y2="320.4" stroke="#111" stroke-width="1"/>
<line x1="341" y1="317.6" x2="341" y2="320.4" stroke="#111" stroke-width="1"/>
<line x1="360" y1="317.6" x2="360" y2="320.4" stroke="#111" stroke-width="1"/>
<text x="261.6" y="328.2" font-size="8.5" text-anchor="end" transform="rotate(-45 261.6 328.2)" fill="#111" stroke="#111" stroke-width="0.3">CD4</text>
<text x="280.5" y="328.2" font-size="8.5" text-anchor="end" transform="rotate(-45 280.5 328.2)" fill="#111" stroke="#111" stroke-width="0.3">CD8</text>
<text x="299.5" y="328.2" font-size="8.5" text-anchor="end" transform="rotate(-45 299.5 328.2)" fill="#111" stroke="#111" stroke-width="0.3">DNT</text>
<text x="325" y="328.2" font-size="8.5" text-anchor="end" transform="rotate(-45 325 328.2)" fill="#111" stroke="#111" stroke-width="0.3">CD4</text>
<text x="344" y="328.2" font-size="8.5" text-anchor="end" transform="rotate(-45 344 328.2)" fill="#111" stroke="#111" stroke-width="0.3">CD8</text>
<text x="363" y="328.2" font-size="8.5" text-anchor="end" transform="rotate(-45 363 328.2)" fill="#111" stroke="#111" stroke-width="0.3">DNT</text>
<line x1="258.6" y1="296.5" x2="258.6" y2="310.6" stroke="#111" stroke-width="1.4"/>
<line x1="255.5" y1="296.5" x2="261.7" y2="296.5" stroke="#111" stroke-width="1.4"/>
<line x1="255.5" y1="310.6" x2="261.7" y2="310.6" stroke="#111" stroke-width="1.4"/>
<rect x="252.25" y="305.2" width="12.7" height="2.1" fill="#c8c8c8"/>
<line x1="252.25" y1="306.25" x2="264.95" y2="306.25" stroke="#000" stroke-width="1.6"/>
<line x1="277.5" y1="298.75" x2="277.5" y2="310.25" stroke="#111" stroke-width="1.4"/>
<line x1="274.4" y1="298.75" x2="280.6" y2="298.75" stroke="#111" stroke-width="1.4"/>
<line x1="274.4" y1="310.25" x2="280.6" y2="310.25" stroke="#111" stroke-width="1.4"/>
<rect x="271.15" y="304.8" width="12.7" height="2" fill="#c8c8c8"/>
<line x1="271.15" y1="305.75" x2="283.85" y2="305.75" stroke="#000" stroke-width="1.6"/>
<line x1="296.5" y1="300.6" x2="296.5" y2="310.6" stroke="#111" stroke-width="1.4"/>
<line x1="293.4" y1="300.6" x2="299.6" y2="300.6" stroke="#111" stroke-width="1.4"/>
<line x1="293.4" y1="310.6" x2="299.6" y2="310.6" stroke="#111" stroke-width="1.4"/>
<rect x="290.15" y="305.6" width="12.7" height="2.4" fill="#c8c8c8"/>
<line x1="290.15" y1="306.9" x2="302.85" y2="306.9" stroke="#000" stroke-width="1.6"/>
<line x1="322" y1="281.6" x2="322" y2="307.5" stroke="#111" stroke-width="1.4"/>
<line x1="318.9" y1="281.6" x2="325.1" y2="281.6" stroke="#111" stroke-width="1.4"/>
<line x1="318.9" y1="307.5" x2="325.1" y2="307.5" stroke="#111" stroke-width="1.4"/>
<rect x="315.65" y="287.75" width="12.7" height="14.75" fill="#c8c8c8"/>
<line x1="315.65" y1="294" x2="328.35" y2="294" stroke="#000" stroke-width="1.6"/>
<line x1="341" y1="282.75" x2="341" y2="304.75" stroke="#111" stroke-width="1.4"/>
<line x1="337.9" y1="282.75" x2="344.1" y2="282.75" stroke="#111" stroke-width="1.4"/>
<line x1="337.9" y1="304.75" x2="344.1" y2="304.75" stroke="#111" stroke-width="1.4"/>
<rect x="334.65" y="291" width="12.7" height="9.9" fill="#c8c8c8"/>
<line x1="334.65" y1="294.6" x2="347.35" y2="294.6" stroke="#000" stroke-width="1.6"/>
<line x1="360" y1="276.6" x2="360" y2="305.4" stroke="#111" stroke-width="1.4"/>
<line x1="356.9" y1="276.6" x2="363.1" y2="276.6" stroke="#111" stroke-width="1.4"/>
<line x1="356.9" y1="305.4" x2="363.1" y2="305.4" stroke="#111" stroke-width="1.4"/>
<rect x="353.65" y="293.75" width="12.7" height="6.5" fill="#c8c8c8"/>
<line x1="353.65" y1="296.5" x2="366.35" y2="296.5" stroke="#000" stroke-width="1.6"/>
<line x1="254.5" y1="344.8" x2="299.5" y2="344.8" stroke="#111" stroke-width="1.2"/>
<line x1="317.3" y1="344.8" x2="362.8" y2="344.8" stroke="#111" stroke-width="1.2"/>
<text x="270" y="356.5" font-size="9.7" textLength="14.4" lengthAdjust="spacingAndGlyphs" fill="#111" stroke="#111" stroke-width="0.3">w/o</text>
<text x="313.8" y="356.5" font-size="9.7" textLength="53.2" lengthAdjust="spacingAndGlyphs" fill="#111" stroke="#111" stroke-width="0.3">+anti-CD3/28</text>
<text x="218.2" y="300.15" font-size="9.7" textLength="64.4" lengthAdjust="spacingAndGlyphs" transform="rotate(-90 218.2 300.15)" fill="#111" stroke="#111" stroke-width="0.3">p-S6(S240) MFI</text>
<line x1="78.3" y1="384.4" x2="78.3" y2="483.4" stroke="#111" stroke-width="1.2"/>
<line x1="77.7" y1="482.8" x2="198.6" y2="482.8" stroke="#111" stroke-width="1.2"/>
<line x1="75.3" y1="482.8" x2="78.3" y2="482.8" stroke="#111" stroke-width="1"/>
<text x="72.7" y="485.75" font-size="8.3" text-anchor="end" fill="#111" stroke="#111" stroke-width="0.3">0</text>
<line x1="75.3" y1="458.75" x2="78.3" y2="458.75" stroke="#111" stroke-width="1"/>
<text x="72.7" y="461.7" font-size="8.3" text-anchor="end" fill="#111" stroke="#111" stroke-width="0.3">500</text>
<line x1="75.3" y1="434.7" x2="78.3" y2="434.7" stroke="#111" stroke-width="1"/>
<text x="72.7" y="437.65" font-size="8.3" text-anchor="end" fill="#111" stroke="#111" stroke-width="0.3">1000</text>
<line x1="75.3" y1="410.65" x2="78.3" y2="410.65" stroke="#111" stroke-width="1"/>
<text x="72.7" y="413.6" font-size="8.3" text-anchor="end" fill="#111" stroke="#111" stroke-width="0.3">1500</text>
<line x1="75.3" y1="386.6" x2="78.3" y2="386.6" stroke="#111" stroke-width="1"/>
<text x="72.7" y="389.55" font-size="8.3" text-anchor="end" fill="#111" stroke="#111" stroke-width="0.3">2000</text>
<line x1="86.8" y1="482.8" x2="86.8" y2="485.6" stroke="#111" stroke-width="1"/>
<line x1="105.4" y1="482.8" x2="105.4" y2="485.6" stroke="#111" stroke-width="1"/>
<line x1="123.6" y1="482.8" x2="123.6" y2="485.6" stroke="#111" stroke-width="1"/>
<line x1="153" y1="482.8" x2="153" y2="485.6" stroke="#111" stroke-width="1"/>
<line x1="171.4" y1="482.8" x2="171.4" y2="485.6" stroke="#111" stroke-width="1"/>
<line x1="189.7" y1="482.8" x2="189.7" y2="485.6" stroke="#111" stroke-width="1"/>
<text x="89.8" y="493.4" font-size="8.5" text-anchor="end" transform="rotate(-45 89.8 493.4)" fill="#111" stroke="#111" stroke-width="0.3">CD4</text>
<text x="108.4" y="493.4" font-size="8.5" text-anchor="end" transform="rotate(-45 108.4 493.4)" fill="#111" stroke="#111" stroke-width="0.3">CD8</text>
<text x="126.6" y="493.4" font-size="8.5" text-anchor="end" transform="rotate(-45 126.6 493.4)" fill="#111" stroke="#111" stroke-width="0.3">DNT</text>
<text x="156" y="493.4" font-size="8.5" text-anchor="end" transform="rotate(-45 156 493.4)" fill="#111" stroke="#111" stroke-width="0.3">CD4</text>
<text x="174.4" y="493.4" font-size="8.5" text-anchor="end" transform="rotate(-45 174.4 493.4)" fill="#111" stroke="#111" stroke-width="0.3">CD8</text>
<text x="192.7" y="493.4" font-size="8.5" text-anchor="end" transform="rotate(-45 192.7 493.4)" fill="#111" stroke="#111" stroke-width="0.3">DNT</text>
<line x1="87.1" y1="449.6" x2="87.1" y2="464.6" stroke="#111" stroke-width="1.4"/>
<line x1="84" y1="449.6" x2="90.2" y2="449.6" stroke="#111" stroke-width="1.4"/>
<line x1="84" y1="464.6" x2="90.2" y2="464.6" stroke="#111" stroke-width="1.4"/>
<rect x="80.75" y="457.5" width="12.7" height="3.75" fill="#c8c8c8"/>
<line x1="80.75" y1="459.4" x2="93.45" y2="459.4" stroke="#000" stroke-width="1.6"/>
<line x1="105.25" y1="450.6" x2="105.25" y2="462.9" stroke="#111" stroke-width="1.4"/>
<line x1="102.15" y1="450.6" x2="108.35" y2="450.6" stroke="#111" stroke-width="1.4"/>
<line x1="102.15" y1="462.9" x2="108.35" y2="462.9" stroke="#111" stroke-width="1.4"/>
<rect x="98.9" y="456.4" width="12.7" height="3.6" fill="#c8c8c8"/>
<line x1="98.9" y1="458.5" x2="111.6" y2="458.5" stroke="#000" stroke-width="1.6"/>
<line x1="123.4" y1="431.9" x2="123.4" y2="456.9" stroke="#111" stroke-width="1.4"/>
<line x1="120.3" y1="431.9" x2="126.5" y2="431.9" stroke="#111" stroke-width="1.4"/>
<line x1="120.3" y1="456.9" x2="126.5" y2="456.9" stroke="#111" stroke-width="1.4"/>
<rect x="117.05" y="448.1" width="12.7" height="6.9" fill="#c8c8c8"/>
<line x1="117.05" y1="452.25" x2="129.75" y2="452.25" stroke="#000" stroke-width="1.6"/>
<line x1="153.3" y1="436.8" x2="153.3" y2="455.5" stroke="#111" stroke-width="1.4"/>
<line x1="150.2" y1="436.8" x2="156.4" y2="436.8" stroke="#111" stroke-width="1.4"/>
<line x1="150.2" y1="455.5" x2="156.4" y2="455.5" stroke="#111" stroke-width="1.4"/>
<rect x="146.95" y="440.6" width="12.7" height="5.8" fill="#c8c8c8"/>
<line x1="146.95" y1="444.1" x2="159.65" y2="444.1" stroke="#000" stroke-width="1.6"/>
<line x1="171.5" y1="435.7" x2="171.5" y2="455.5" stroke="#111" stroke-width="1.4"/>
<line x1="168.4" y1="435.7" x2="174.6" y2="435.7" stroke="#111" stroke-width="1.4"/>
<line x1="168.4" y1="455.5" x2="174.6" y2="455.5" stroke="#111" stroke-width="1.4"/>
<rect x="165.15" y="443.7" width="12.7" height="2" fill="#c8c8c8"/>
<line x1="165.15" y1="444.7" x2="177.85" y2="444.7" stroke="#000" stroke-width="1.6"/>
<line x1="189.7" y1="397.4" x2="189.7" y2="444.8" stroke="#111" stroke-width="1.4"/>
<line x1="186.6" y1="397.4" x2="192.8" y2="397.4" stroke="#111" stroke-width="1.4"/>
<line x1="186.6" y1="444.8" x2="192.8" y2="444.8" stroke="#111" stroke-width="1.4"/>
<rect x="183.35" y="426.9" width="12.7" height="13.7" fill="#c8c8c8"/>
<line x1="183.35" y1="433.9" x2="196.05" y2="433.9" stroke="#000" stroke-width="1.6"/>
<line x1="81.25" y1="510" x2="125.5" y2="510" stroke="#111" stroke-width="1.2"/>
<line x1="149.5" y1="510" x2="194.25" y2="510" stroke="#111" stroke-width="1.2"/>
<text x="97.4" y="521.7" font-size="9.7" textLength="14.4" lengthAdjust="spacingAndGlyphs" fill="#111" stroke="#111" stroke-width="0.3">w/o</text>
<text x="145" y="521.7" font-size="9.7" textLength="53.2" lengthAdjust="spacingAndGlyphs" fill="#111" stroke="#111" stroke-width="0.3">+anti-CD3/28</text>
<text x="47" y="452.95" font-size="9.7" textLength="39.5" lengthAdjust="spacingAndGlyphs" transform="rotate(-90 47 452.95)" fill="#111" stroke="#111" stroke-width="0.3">p-Akt MFI</text>
<line x1="87" y1="384.3" x2="127" y2="384.3" stroke="#111" stroke-width="1.3"/>
<line x1="105.25" y1="395.7" x2="127" y2="395.7" stroke="#111" stroke-width="1.3"/>
<line x1="154.6" y1="384.3" x2="190.2" y2="384.3" stroke="#111" stroke-width="1.3"/>
<line x1="171.5" y1="395.7" x2="190.2" y2="395.7" stroke="#111" stroke-width="1.3"/>
<line x1="249" y1="384.2" x2="249" y2="483.2" stroke="#111" stroke-width="1.2"/>
<line x1="248.4" y1="482.6" x2="363.6" y2="482.6" stroke="#111" stroke-width="1.2"/>
<line x1="246" y1="482.6" x2="249" y2="482.6" stroke="#111" stroke-width="1"/>
<text x="243.4" y="485.55" font-size="8.3" text-anchor="end" fill="#111" stroke="#111" stroke-width="0.3">0</text>
<line x1="246" y1="463.36" x2="249" y2="463.36" stroke="#111" stroke-width="1"/>
<text x="243.4" y="466.31" font-size="8.3" text-anchor="end" fill="#111" stroke="#111" stroke-width="0.3">500</text>
<line x1="246" y1="444.12" x2="249" y2="444.12" stroke="#111" stroke-width="1"/>
<text x="243.4" y="447.07" font-size="8.3" text-anchor="end" fill="#111" stroke="#111" stroke-width="0.3">1000</text>
<line x1="246" y1="424.88" x2="249" y2="424.88" stroke="#111" stroke-width="1"/>
<text x="243.4" y="427.83" font-size="8.3" text-anchor="end" fill="#111" stroke="#111" stroke-width="0.3">1500</text>
<line x1="246" y1="405.64" x2="249" y2="405.64" stroke="#111" stroke-width="1"/>
<text x="243.4" y="408.59" font-size="8.3" text-anchor="end" fill="#111" stroke="#111" stroke-width="0.3">2000</text>
<line x1="246" y1="386.4" x2="249" y2="386.4" stroke="#111" stroke-width="1"/>
<text x="243.4" y="389.35" font-size="8.3" text-anchor="end" fill="#111" stroke="#111" stroke-width="0.3">2500</text>
<line x1="255.25" y1="482.6" x2="255.25" y2="485.4" stroke="#111" stroke-width="1"/>
<line x1="274.5" y1="482.6" x2="274.5" y2="485.4" stroke="#111" stroke-width="1"/>
<line x1="293.25" y1="482.6" x2="293.25" y2="485.4" stroke="#111" stroke-width="1"/>
<line x1="318.4" y1="482.6" x2="318.4" y2="485.4" stroke="#111" stroke-width="1"/>
<line x1="337.1" y1="482.6" x2="337.1" y2="485.4" stroke="#111" stroke-width="1"/>
<line x1="355.9" y1="482.6" x2="355.9" y2="485.4" stroke="#111" stroke-width="1"/>
<text x="258.25" y="493.2" font-size="8.5" text-anchor="end" transform="rotate(-45 258.25 493.2)" fill="#111" stroke="#111" stroke-width="0.3">CD4</text>
<text x="277.5" y="493.2" font-size="8.5" text-anchor="end" transform="rotate(-45 277.5 493.2)" fill="#111" stroke="#111" stroke-width="0.3">CD8</text>
<text x="296.25" y="493.2" font-size="8.5" text-anchor="end" transform="rotate(-45 296.25 493.2)" fill="#111" stroke="#111" stroke-width="0.3">DNT</text>
<text x="321.4" y="493.2" font-size="8.5" text-anchor="end" transform="rotate(-45 321.4 493.2)" fill="#111" stroke="#111" stroke-width="0.3">CD4</text>
<text x="340.1" y="493.2" font-size="8.5" text-anchor="end" transform="rotate(-45 340.1 493.2)" fill="#111" stroke="#111" stroke-width="0.3">CD8</text>
<text x="358.9" y="493.2" font-size="8.5" text-anchor="end" transform="rotate(-45 358.9 493.2)" fill="#111" stroke="#111" stroke-width="0.3">DNT</text>
<line x1="258.5" y1="466.25" x2="258.5" y2="475" stroke="#111" stroke-width="1.4"/>
<line x1="255.4" y1="466.25" x2="261.6" y2="466.25" stroke="#111" stroke-width="1.4"/>
<line x1="255.4" y1="475" x2="261.6" y2="475" stroke="#111" stroke-width="1.4"/>
<rect x="252.15" y="472.4" width="12.7" height="1.9" fill="#c8c8c8"/>
<line x1="252.15" y1="473.4" x2="264.85" y2="473.4" stroke="#000" stroke-width="1.6"/>
<line x1="277.6" y1="465.6" x2="277.6" y2="475" stroke="#111" stroke-width="1.4"/>
<line x1="274.5" y1="465.6" x2="280.7" y2="465.6" stroke="#111" stroke-width="1.4"/>
<line x1="274.5" y1="475" x2="280.7" y2="475" stroke="#111" stroke-width="1.4"/>
<rect x="271.25" y="471.8" width="12.7" height="1.9" fill="#c8c8c8"/>
<line x1="271.25" y1="472.75" x2="283.95" y2="472.75" stroke="#000" stroke-width="1.6"/>
<line x1="296.5" y1="456.9" x2="296.5" y2="473.1" stroke="#111" stroke-width="1.4"/>
<line x1="293.4" y1="456.9" x2="299.6" y2="456.9" stroke="#111" stroke-width="1.4"/>
<line x1="293.4" y1="473.1" x2="299.6" y2="473.1" stroke="#111" stroke-width="1.4"/>
<rect x="290.15" y="464.4" width="12.7" height="5.35" fill="#c8c8c8"/>
<line x1="290.15" y1="468.75" x2="302.85" y2="468.75" stroke="#000" stroke-width="1.6"/>
<line x1="322" y1="456.6" x2="322" y2="469.1" stroke="#111" stroke-width="1.4"/>
<line x1="318.9" y1="456.6" x2="325.1" y2="456.6" stroke="#111" stroke-width="1.4"/>
<line x1="318.9" y1="469.1" x2="325.1" y2="469.1" stroke="#111" stroke-width="1.4"/>
<rect x="315.65" y="460.2" width="12.7" height="5" fill="#c8c8c8"/>
<line x1="315.65" y1="464.1" x2="328.35" y2="464.1" stroke="#000" stroke-width="1.6"/>
<line x1="340.9" y1="453.9" x2="340.9" y2="467" stroke="#111" stroke-width="1.4"/>
<line x1="337.8" y1="453.9" x2="344" y2="453.9" stroke="#111" stroke-width="1.4"/>
<line x1="337.8" y1="467" x2="344" y2="467" stroke="#111" stroke-width="1.4"/>
<rect x="334.55" y="457.5" width="12.7" height="7.1" fill="#c8c8c8"/>
<line x1="334.55" y1="458.75" x2="347.25" y2="458.75" stroke="#000" stroke-width="1.6"/>
<line x1="359.9" y1="406.1" x2="359.9" y2="463.2" stroke="#111" stroke-width="1.4"/>
<line x1="356.8" y1="406.1" x2="363" y2="406.1" stroke="#111" stroke-width="1.4"/>
<line x1="356.8" y1="463.2" x2="363" y2="463.2" stroke="#111" stroke-width="1.4"/>
<rect x="353.55" y="427.5" width="12.7" height="32.7" fill="#c8c8c8"/>
<line x1="353.55" y1="449.1" x2="366.25" y2="449.1" stroke="#000" stroke-width="1.6"/>
<line x1="251.5" y1="509.8" x2="295.25" y2="509.8" stroke="#111" stroke-width="1.2"/>
<line x1="314" y1="509.8" x2="358.25" y2="509.8" stroke="#111" stroke-width="1.2"/>
<text x="266.6" y="521.5" font-size="9.7" textLength="14.4" lengthAdjust="spacingAndGlyphs" fill="#111" stroke="#111" stroke-width="0.3">w/o</text>
<text x="311" y="521.5" font-size="9.7" textLength="53.2" lengthAdjust="spacingAndGlyphs" fill="#111" stroke="#111" stroke-width="0.3">+anti-CD3/28</text>
<text x="218.2" y="465.2" font-size="9.7" textLength="64.4" lengthAdjust="spacingAndGlyphs" transform="rotate(-90 218.2 465.2)" fill="#111" stroke="#111" stroke-width="0.3">p-S6(S240) MFI</text>
<line x1="257.75" y1="384.4" x2="297.25" y2="384.4" stroke="#111" stroke-width="1.3"/>
<line x1="277" y1="395.7" x2="297.25" y2="395.7" stroke="#111" stroke-width="1.3"/>
<line x1="326" y1="384.4" x2="360.75" y2="384.4" stroke="#111" stroke-width="1.3"/>
<line x1="342.75" y1="395.7" x2="360.75" y2="395.7" stroke="#111" stroke-width="1.3"/>
<text x="103.6" y="382.7" font-size="8" font-weight="bold" textLength="6.4" lengthAdjust="spacingAndGlyphs" fill="#000" stroke="#000" stroke-width="0.15">**</text>
<text x="113" y="393.5" font-size="8" font-weight="bold" textLength="6.4" lengthAdjust="spacingAndGlyphs" fill="#000" stroke="#000" stroke-width="0.15">**</text>
<text x="169.05" y="382.7" font-size="8" font-weight="bold" textLength="6.4" lengthAdjust="spacingAndGlyphs" fill="#000" stroke="#000" stroke-width="0.15">**</text>
<text x="177.55" y="393.5" font-size="8" font-weight="bold" textLength="6.4" lengthAdjust="spacingAndGlyphs" fill="#000" stroke="#000" stroke-width="0.15">**</text>
<text x="274.55" y="382.8" font-size="8" font-weight="bold" textLength="6.4" lengthAdjust="spacingAndGlyphs" fill="#000" stroke="#000" stroke-width="0.15">**</text>
<text x="283.8" y="393.5" font-size="8" font-weight="bold" textLength="6.4" lengthAdjust="spacingAndGlyphs" fill="#000" stroke="#000" stroke-width="0.15">**</text>
<text x="340.05" y="382.8" font-size="8" font-weight="bold" textLength="6.4" lengthAdjust="spacingAndGlyphs" fill="#000" stroke="#000" stroke-width="0.15">**</text>
<text x="351.5" y="393.5" font-size="8" text-anchor="middle" font-weight="bold" fill="#000" stroke="#000" stroke-width="0.15">*</text>
<rect x="0" y="0" width="520" height="1.3" fill="#000"/>
<rect x="0" y="0" width="1.45" height="532" fill="#000"/>
<rect x="518.5" y="0" width="1.5" height="532" fill="#000"/>
<rect x="0" y="530.4" width="520" height="1.6" fill="#000"/>
</svg>
</body>
</html>
